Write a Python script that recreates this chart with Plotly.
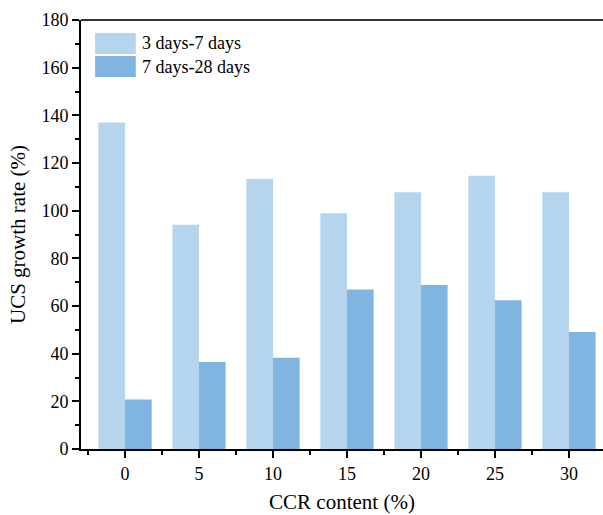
import plotly.graph_objects as go

categories = ["0", "5", "10", "15", "20", "25", "30"]
rate_3_7 = [137.0, 94.1, 113.3, 98.9, 107.7, 114.6, 107.7]
rate_7_28 = [20.8, 36.5, 38.3, 66.9, 68.8, 62.4, 49.1]
series_names = ["3 days-7 days", "7 days-28 days"]
y_ticks = [0, 20, 40, 60, 80, 100, 120, 140, 160, 180]

light = "#b5d4ee"
dark = "#80b4e1"
font_family = "Liberation Serif, Times New Roman, serif"

fig = go.Figure()
fig.add_trace(go.Bar(x=categories, y=rate_3_7, name=series_names[0],
                     marker=dict(color=light, line=dict(width=0)), showlegend=False))
fig.add_trace(go.Bar(x=categories, y=rate_7_28, name=series_names[1],
                     marker=dict(color=dark, line=dict(width=0)), showlegend=False))

# custom legend with large swatches
fig.add_shape(type="rect", xref="paper", yref="paper", x0=0.027, x1=0.105,
              y0=0.9207, y1=0.9697, fillcolor=light, line=dict(width=0))
fig.add_shape(type="rect", xref="paper", yref="paper", x0=0.027, x1=0.105,
              y0=0.8671, y1=0.9161, fillcolor=dark, line=dict(width=0))
fig.add_annotation(xref="paper", yref="paper", x=0.113, y=0.946, text=series_names[0],
                   showarrow=False, xanchor="left", yanchor="middle",
                   font=dict(family=font_family, size=18, color="black"))
fig.add_annotation(xref="paper", yref="paper", x=0.113, y=0.8916, text=series_names[1],
                   showarrow=False, xanchor="left", yanchor="middle",
                   font=dict(family=font_family, size=18, color="black"))
# top frame line
fig.add_shape(type="line", xref="paper", yref="paper", x0=0, x1=1, y0=1, y1=1,
              line=dict(color="#333333", width=2))

fig.update_layout(
    width=603, height=515,
    margin=dict(l=81, r=0, t=20, b=66),
    paper_bgcolor="white", plot_bgcolor="white",
    barmode="group", bargap=0.28, bargroupgap=0,
    font=dict(family=font_family, size=18, color="black"),
    xaxis=dict(
        title=dict(text="CCR content (%)", font=dict(size=21), standoff=12),
        range=[-0.595, 6.46],
        showline=True, linecolor="black", linewidth=2, mirror=False,
        ticks="outside", ticklen=7, tickwidth=2, tickcolor="black",
        showgrid=False, zeroline=False,
        tickfont=dict(size=18),
        minor=dict(tickvals=[-0.5, 0.5, 1.5, 2.5, 3.5, 4.5, 5.5], ticks="outside",
                   ticklen=4, tickwidth=1.5, tickcolor="black", showgrid=False),
    ),
    yaxis=dict(
        title=dict(text="UCS growth rate (%)", font=dict(size=21), standoff=10),
        range=[0, 180], tickvals=y_ticks,
        showline=True, linecolor="black", linewidth=2, mirror=False,
        ticks="outside", ticklen=7, tickwidth=2, tickcolor="black",
        minor=dict(dtick=10, ticks="outside", ticklen=4, tickwidth=1.5, tickcolor="black"),
        showgrid=False, zeroline=False,
        tickfont=dict(size=18),
    ),
)

fig.write_html("out.html", config={"displayModeBar": False},
               post_script="document.body.style.margin='0';document.body.style.overflow='hidden';")
